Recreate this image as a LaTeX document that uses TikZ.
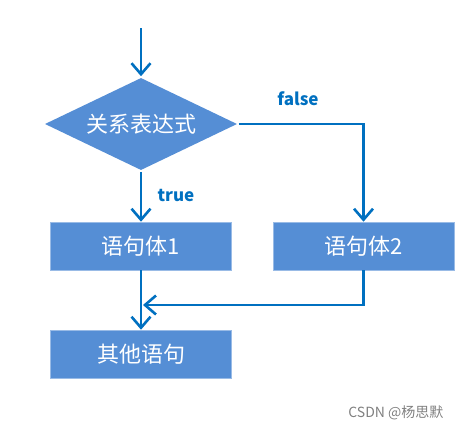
\documentclass[tikz,border=0pt]{standalone}
\usepackage{fontspec}
\setmainfont{Noto Sans CJK SC}
\usetikzlibrary{arrows.meta,shapes.geometric,positioning}
\definecolor{boxblue}{RGB}{85,142,213}
\definecolor{lineblue}{RGB}{0,112,192}

\begin{document}
\begin{tikzpicture}
[x=1pt, y=-1pt, line width=2.6pt, >={Straight Barb[length=11pt,width=19pt]},
stmt/.style={rectangle, fill=boxblue, draw=boxblue!60!white, line width=0.6pt, inner sep=0pt, minimum width=181pt, minimum height=48pt, text=white, font=\fontsize{22}{26}\selectfont},
cond/.style={diamond, aspect=2.08, fill=boxblue, inner sep=0pt, minimum width=193pt, minimum height=93pt, text=white, font=\fontsize{22}{26}\selectfont},
flow/.style={->, draw=lineblue, line width=2.6pt},
lbl/.style={text=lineblue, font=\bfseries\fontsize{17}{20}\selectfont}]

\useasboundingbox (0,0) rectangle (462,431);

\coordinate (start) at (141,28);
\node[cond] (expr) at (141,124) {关系表达式};
\node[stmt] (body1) at (141,246) {语句体1};
\node[stmt] (body2) at (363.5,246) {语句体2};
\node[stmt] (other) at (141,354) {其他语句};
\coordinate (join) at (143,305);

\node[lbl] (truelbl) at (176,195) {true};
\node[lbl] (falselbl) at (298,99) {false};

\draw[flow] (start) -- (expr.north);
\draw[flow] (expr.south) -- (body1.north);
\draw[flow] (expr.east) -| (body2.north);
\draw[flow] (body1.south) -- (other.north);
\draw[flow] (body2.south) |- (join);

\node[text=gray, anchor=east, font=\fontsize{14}{16}\selectfont] (mark) at (448,413) {CSDN @杨思默};
\end{tikzpicture}
\end{document}
